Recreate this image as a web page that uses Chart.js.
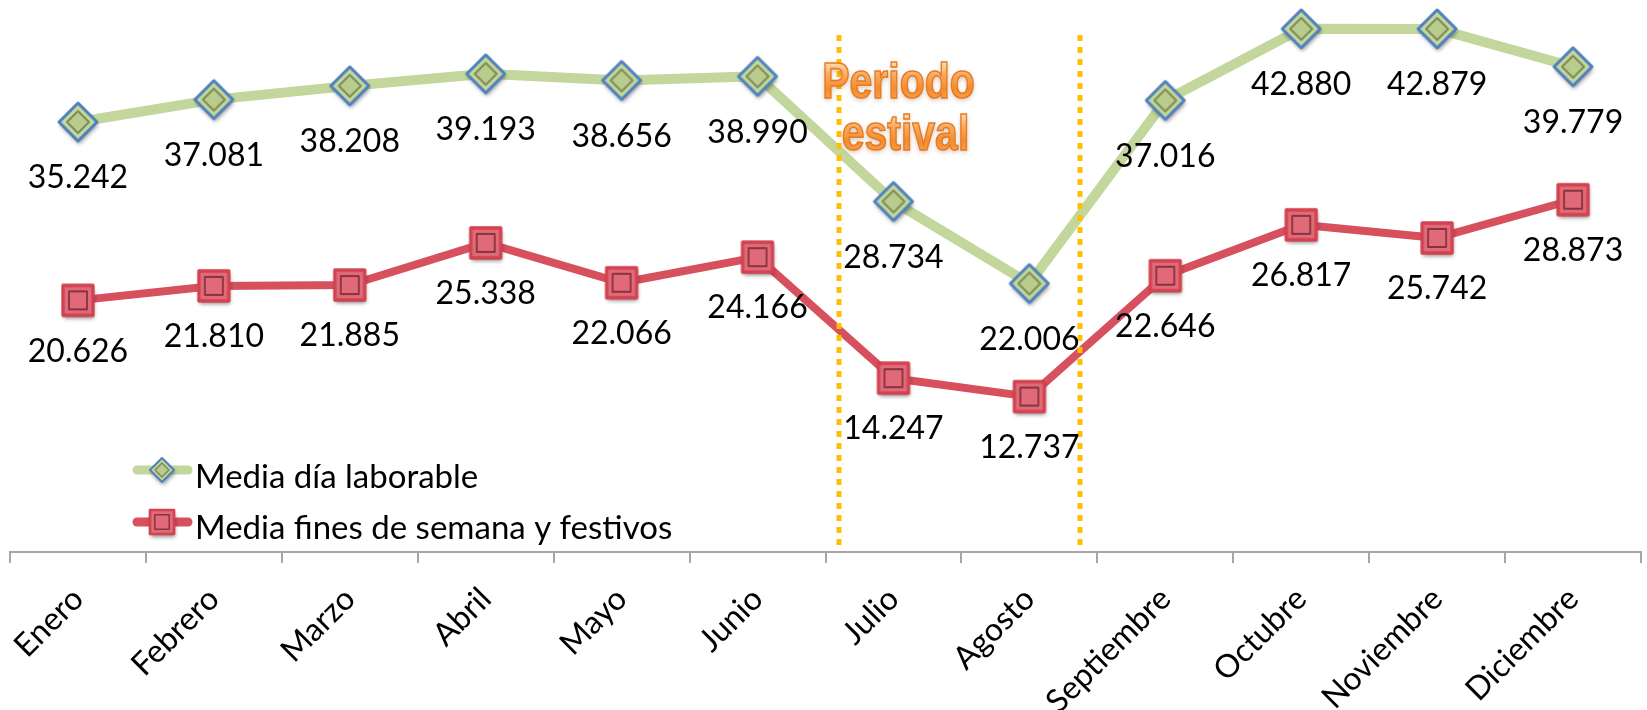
<!DOCTYPE html>
<html>
<head>
<meta charset="utf-8">
<script src="https://cdn.jsdelivr.net/npm/chart.js@4.4.1/dist/chart.umd.min.js"></script>
<style>
  html, body { margin: 0; padding: 0; background: #ffffff; }
  #wrap { width: 1647px; height: 710px; }
</style>
</head>
<body>
<div id="wrap"><canvas id="c" width="1647" height="710"></canvas></div>
<script>
// ---- data ----
const categories = ['Enero', 'Febrero', 'Marzo', 'Abril', 'Mayo', 'Junio', 'Julio', 'Agosto', 'Septiembre', 'Octubre', 'Noviembre', 'Diciembre'];
const mediaLaborable = [35242, 37081, 38208, 39193, 38656, 38990, 28734, 22006, 37016, 42880, 42879, 39779];
const mediaFinesSemana = [20626, 21810, 21885, 25338, 22066, 24166, 14247, 12737, 22646, 26817, 25742, 28873];
const seriesNames = ['Media día laborable', 'Media fines de semana y festivos'];
const annotationText = ['Periodo', 'estival'];
const summerStart = 5.6;   // category index position of first dotted line
const summerEnd = 7.37;    // category index position of second dotted line

// ---- helpers ----
function fmt(n) { return String(n).replace(/\B(?=(\d{3})+(?!\d))/g, '.'); }

function makeDiamond(h) {
  const s = Math.ceil(h * 2 + 20);
  const c = document.createElement('canvas'); c.width = s; c.height = s;
  const g = c.getContext('2d');
  const m = s / 2;
  const path = (r) => { g.beginPath(); g.moveTo(m, m - r); g.lineTo(m + r, m); g.lineTo(m, m + r); g.lineTo(m - r, m); g.closePath(); };
  g.save();
  g.shadowColor = 'rgba(0,0,0,0.45)'; g.shadowBlur = 4; g.shadowOffsetX = 1; g.shadowOffsetY = 3;
  path(h); g.fillStyle = '#C3D69B'; g.fill();
  g.restore();
  path(h); g.lineWidth = Math.max(2, h * 0.16); g.strokeStyle = '#4F81BD'; g.lineJoin = 'round'; g.stroke();
  path(h * 0.58); g.fillStyle = '#B9CC8E'; g.fill(); g.lineWidth = Math.max(1.5, h * 0.1); g.strokeStyle = '#7D8C55'; g.stroke();
  return c;
}
function makeSquare(h) {
  const s = Math.ceil(h * 2 + 20);
  const c = document.createElement('canvas'); c.width = s; c.height = s;
  const g = c.getContext('2d');
  const m = s / 2;
  g.save();
  g.shadowColor = 'rgba(0,0,0,0.45)'; g.shadowBlur = 4; g.shadowOffsetX = 1; g.shadowOffsetY = 3;
  g.fillStyle = '#E06A77'; g.fillRect(m - h, m - h, 2 * h, 2 * h);
  g.restore();
  g.lineWidth = Math.max(2, h * 0.22); g.strokeStyle = '#D2424F'; g.lineJoin = 'round';
  g.strokeRect(m - h, m - h, 2 * h, 2 * h);
  const ih = h * 0.6;
  g.lineWidth = Math.max(1.5, h * 0.12); g.strokeStyle = '#8A3340';
  g.strokeRect(m - ih, m - ih, 2 * ih, 2 * ih);
  return c;
}
const diamondBig = makeDiamond(19);
const squareBig = makeSquare(15);
const diamondSmall = makeDiamond(12);
const squareSmall = makeSquare(12);

const GREEN = '#C3D69B';
const RED = '#D6505E';

// let the markers overflow the plot area instead of shrinking it
const LineCtrl = Chart.registry.getController('line');
LineCtrl.prototype.getMaxOverflow = function () { return 0; };

// ---- plugins ----
const summerLines = {
  id: 'summerLines',
  afterDatasetsDraw(chart) {
    const ctx = chart.ctx, x = chart.scales.x;
    ctx.save();
    ctx.strokeStyle = '#FFC000';
    ctx.lineWidth = 5;
    ctx.setLineDash([6, 6]);
    [summerStart, summerEnd].forEach(v => {
      const px = Math.round(x.getPixelForValue(v));
      ctx.beginPath(); ctx.moveTo(px, 35); ctx.lineTo(px, 545); ctx.stroke();
    });
    ctx.restore();
  }
};

const dataLabels = {
  id: 'dataLabels',
  afterDatasetsDraw(chart) {
    const ctx = chart.ctx;
    ctx.save();
    ctx.font = '32px Lato';
    ctx.fillStyle = '#000000';
    ctx.textAlign = 'center';
    ctx.textBaseline = 'middle';
    chart.data.datasets.forEach((ds, i) => {
      const meta = chart.getDatasetMeta(i);
      const off = i === 0 ? 56 : 51;
      meta.data.forEach((pt, j) => {
        ctx.fillText(fmt(ds.data[j]), pt.x, pt.y + off);
      });
    });
    ctx.restore();
  }
};

const annotation = {
  id: 'annotation',
  afterDraw(chart) {
    const ctx = chart.ctx, x = chart.scales.x;
    const cx = x.getPixelForValue(6);
    ctx.save();
    ctx.font = 'bold 41px "Liberation Sans"';
    ctx.textAlign = 'center';
    ctx.textBaseline = 'alphabetic';
    const lines = [[annotationText[0], cx + 5, 98], [annotationText[1], cx + 12, 150]];
    lines.forEach(([t, px, py]) => {
      ctx.save();
      ctx.translate(px, py);
      ctx.scale(1, 1.2);
      const grad = ctx.createLinearGradient(0, -30, 0, 2);
      grad.addColorStop(0, '#FFDDB0');
      grad.addColorStop(0.35, '#FBA85A');
      grad.addColorStop(0.7, '#F48B2E');
      grad.addColorStop(1, '#F7A24F');
      ctx.save();
      ctx.shadowColor = 'rgba(120,60,0,0.35)'; ctx.shadowBlur = 5; ctx.shadowOffsetY = 2;
      ctx.fillStyle = grad;
      ctx.fillText(t, 0, 0);
      ctx.restore();
      ctx.lineWidth = 1.3;
      ctx.strokeStyle = '#E57A25';
      ctx.strokeText(t, 0, 0);
      ctx.restore();
    });
    ctx.restore();
  }
};

const customLegend = {
  id: 'customLegend',
  afterDraw(chart) {
    const ctx = chart.ctx;
    ctx.save();
    const items = [
      { y: 470, color: GREEN, w: 9, marker: diamondSmall, text: seriesNames[0], ty: 488 },
      { y: 522, color: RED, w: 9, marker: squareSmall, text: seriesNames[1], ty: 539 }
    ];
    items.forEach(it => {
      ctx.strokeStyle = it.color; ctx.lineWidth = it.w; ctx.lineCap = 'round';
      ctx.beginPath(); ctx.moveTo(137, it.y); ctx.lineTo(188, it.y); ctx.stroke();
      ctx.drawImage(it.marker, 162 - it.marker.width / 2, it.y - it.marker.height / 2);
      ctx.font = '33px Lato'; ctx.fillStyle = '#000'; ctx.textAlign = 'left'; ctx.textBaseline = 'alphabetic';
      ctx.fillText(it.text, 195, it.ty);
    });
    ctx.restore();
  }
};

function zeroPad(scale) {
  scale.paddingLeft = 0; scale.paddingRight = 0; scale.paddingTop = 0; scale.paddingBottom = 0;
}

new Chart(document.getElementById('c'), {
  type: 'line',
  data: {
    labels: categories,
    datasets: [
      { label: seriesNames[0], data: mediaLaborable, borderColor: GREEN, backgroundColor: GREEN, borderWidth: 10,
        pointStyle: diamondBig, pointRadius: 19, pointHoverRadius: 19, tension: 0, clip: false, borderJoinStyle: 'round' },
      { label: seriesNames[1], data: mediaFinesSemana, borderColor: RED, backgroundColor: RED, borderWidth: 8,
        pointStyle: squareBig, pointRadius: 15, pointHoverRadius: 15, tension: 0, clip: false, borderJoinStyle: 'round' }
    ]
  },
  options: {
    responsive: false,
    devicePixelRatio: 1,
    animation: false,
    events: [],
    layout: { padding: { left: 10, right: 6, top: 3, bottom: 0 } },
    plugins: { legend: { display: false }, tooltip: { enabled: false } },
    scales: {
      y: { display: false, min: 0, max: 45000, afterFit(scale) { zeroPad(scale); } },
      x: {
        offset: true,
        grid: { display: true, offset: true, drawOnChartArea: false, drawTicks: true, tickLength: 11, color: '#A6A6A6', lineWidth: 2 },
        border: { display: true, color: '#A6A6A6', width: 2 },
        ticks: { autoSkip: false, minRotation: 45, maxRotation: 45, padding: 17, color: '#000000', font: { family: 'Lato', size: 32 } },
        afterFit(scale) { scale.height = 158; zeroPad(scale); }
      }
    }
  },
  plugins: [summerLines, dataLabels, annotation, customLegend]
});
</script>
</body>
</html>
